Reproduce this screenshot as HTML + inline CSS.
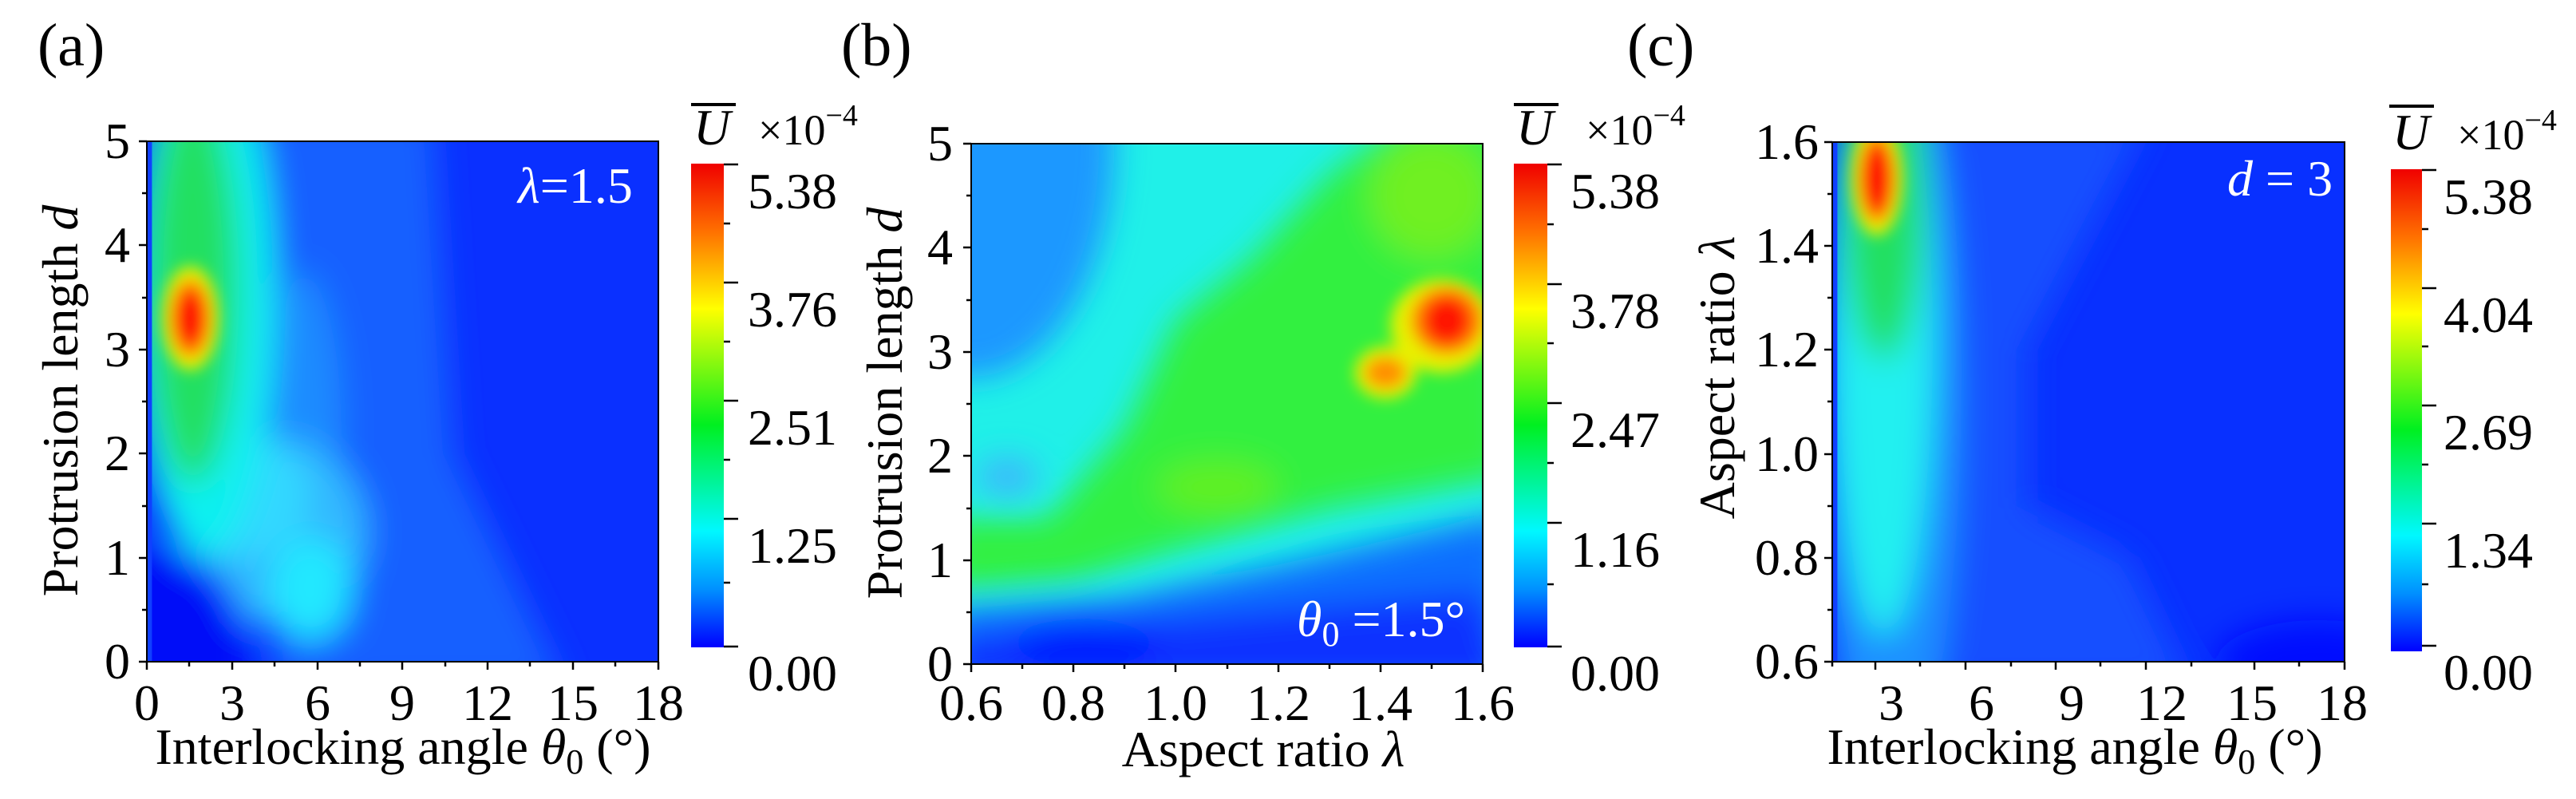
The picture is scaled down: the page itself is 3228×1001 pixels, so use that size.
<!DOCTYPE html>
<html><head><meta charset="utf-8"><style>
html,body{margin:0;padding:0;background:#fff;}
svg, svg text, svg tspan{font-family:"Liberation Serif","DejaVu Serif","Times New Roman",Times,serif !important;}
</style></head><body>
<svg width="3228" height="996" viewBox="0 0 3228 996" xmlns="http://www.w3.org/2000/svg" font-family="'Liberation Serif', 'DejaVu Serif', serif">
<defs>
<filter id="bl" x="-30%" y="-30%" width="160%" height="160%"><feGaussianBlur stdDeviation="3.2"/></filter>
<filter id="bs" x="-30%" y="-30%" width="160%" height="160%"><feGaussianBlur stdDeviation="1.4"/></filter>
<clipPath id="cp"><rect x="0" y="0" width="100" height="100"/></clipPath>
<linearGradient id="jet" x1="0" y1="0" x2="0" y2="1">
<stop offset="0" stop-color="#f00000"/><stop offset="0.14" stop-color="#ff7000"/>
<stop offset="0.3" stop-color="#ffff00"/><stop offset="0.54" stop-color="#00f020"/>
<stop offset="0.76" stop-color="#00f8ff"/><stop offset="0.88" stop-color="#0090ff"/>
<stop offset="1" stop-color="#0000ff"/></linearGradient>
</defs>

<g transform="translate(184,177) scale(6.41,6.52)" clip-path="url(#cp)">
<rect x="-5" y="-5" width="110" height="110" fill="#0a30ff"/>
<g filter="url(#bl)">
<path d="M16,-5 L56,-5 L60,60 L82,105 L25,105 Z" fill="#1560ff"/>
<ellipse cx="30" cy="55" rx="8" ry="30" fill="#1a8cff"/>
<ellipse cx="25" cy="75" rx="18" ry="18" fill="#30b8ff"/>
<ellipse cx="32" cy="86" rx="8" ry="10" fill="#20e8ff"/>
<ellipse cx="18" cy="68" rx="14" ry="12" fill="#30d8ff"/>
<ellipse cx="11" cy="30" rx="14" ry="50" fill="#10f0f0"/>
<ellipse cx="9" cy="28" rx="9" ry="38" fill="#20e060"/>
<ellipse cx="2" cy="100" rx="18" ry="22" fill="#0010f8"/>
</g>
<g filter="url(#bs)">
<ellipse cx="8.5" cy="34" rx="5.5" ry="10" fill="#e8f000"/>
<ellipse cx="8.5" cy="34" rx="4" ry="7.5" fill="#ff8000"/>
<ellipse cx="8.5" cy="34" rx="2.6" ry="5.2" fill="#ff1000"/>
</g>
<rect x="0" y="0" width="1" height="100" fill="#1040ff"/>
</g>
<rect x="184" y="177" width="641" height="652" fill="none" stroke="#000" stroke-width="2"/>

<g transform="translate(1217,180) scale(6.41,6.52)" clip-path="url(#cp)">
<rect x="-5" y="-5" width="110" height="110" fill="#20f0e8"/>
<g filter="url(#bl)">
<ellipse cx="0" cy="0" rx="28" ry="45" fill="#1a98ff"/>
<path d="M-5,72 L15,72 L30,55 L40,34 L55,22 L70,6 L85,-5 L105,-5 L105,64 L70,70 L40,78 L20,84 L-5,86 Z" fill="#30f040"/>
<ellipse cx="48" cy="66" rx="12" ry="5" fill="#60f020"/>
<ellipse cx="90" cy="10" rx="12" ry="12" fill="#70f020"/>
<ellipse cx="7" cy="64" rx="6" ry="3.5" fill="#40b0ff"/>
<path d="M-5,89 L30,87 L60,81 L105,71 L105,105 L-5,105 Z" fill="#1070ff"/>
<path d="M-5,95 L100,86 L105,105 L-5,105 Z" fill="#0a30ff"/>
<ellipse cx="22" cy="96" rx="15" ry="4" fill="#0008ff"/>
</g>
<g filter="url(#bs)">
<ellipse cx="92" cy="35" rx="10" ry="9" fill="#e8f000"/>
<ellipse cx="81" cy="44" rx="6" ry="5" fill="#e8f000"/>
<ellipse cx="81" cy="44" rx="4" ry="3" fill="#ff9000"/>
<ellipse cx="93" cy="34" rx="7" ry="6.5" fill="#ff8000"/>
<ellipse cx="93" cy="34" rx="4.5" ry="4.5" fill="#ff1800"/>
</g>
</g>
<rect x="1217" y="180" width="641" height="652" fill="none" stroke="#000" stroke-width="2"/>

<g transform="translate(2296,178) scale(6.42,6.51)" clip-path="url(#cp)">
<rect x="-5" y="-5" width="110" height="110" fill="#0830ff"/>
<g filter="url(#bl)">
<path d="M12,-5 L62,-5 L38,40 L38,70 L58,80 L70,105 L10,105 Z" fill="#1550ff"/>
<ellipse cx="11" cy="50" rx="14" ry="75" fill="#1a90ff"/>
<ellipse cx="10" cy="35" rx="10" ry="60" fill="#20f0f0"/>
<ellipse cx="10" cy="10" rx="8" ry="32" fill="#20e060"/>
<ellipse cx="95" cy="100" rx="20" ry="8" fill="#0010ff"/>
</g>
<g filter="url(#bs)">
<ellipse cx="8.7" cy="7" rx="5" ry="11" fill="#e8f000"/>
<ellipse cx="8.7" cy="7" rx="3.6" ry="8.5" fill="#ff8000"/>
<ellipse cx="8.7" cy="7" rx="2.5" ry="6.5" fill="#ff1000"/>
</g>
<rect x="0" y="0" width="1" height="100" fill="#1040ff"/>
</g>
<rect x="2296" y="178" width="642" height="651" fill="none" stroke="#000" stroke-width="2"/>

<g stroke="#000" stroke-width="2.5">
<path d="M184,829v10M291,829v10M398,829v10M504,829v10M611,829v10M718,829v10M825,829v10
M237,829v6M344,829v6M451,829v6M558,829v6M664,829v6M771,829v6"/>
<path d="M184,177h-10M184,307h-10M184,438h-10M184,568h-10M184,699h-10M184,829h-10
M184,242h-6M184,373h-6M184,503h-6M184,634h-6M184,764h-6"/>
<path d="M1217,832v10M1345,832v10M1473,832v10M1602,832v10M1730,832v10M1858,832v10
M1281,832v6M1409,832v6M1538,832v6M1666,832v6M1794,832v6"/>
<path d="M1217,180h-10M1217,310h-10M1217,441h-10M1217,571h-10M1217,702h-10M1217,832h-10
M1217,245h-6M1217,376h-6M1217,506h-6M1217,637h-6M1217,767h-6"/>
<path d="M2350,829v10M2463,829v10M2576,829v10M2689,829v10M2825,829v10M2938,829v10
M2296,829v6M2406,829v6M2520,829v6M2632,829v6M2746,829v6M2881,829v6"/>
<path d="M2296,178h-10M2296,308h-10M2296,438h-10M2296,569h-10M2296,699h-10M2296,829h-10
M2296,243h-6M2296,373h-6M2296,503h-6M2296,634h-6M2296,764h-6"/>
</g>

<rect x="866" y="205" width="41" height="606" fill="url(#jet)"/>
<rect x="1897" y="205" width="42" height="606" fill="url(#jet)"/>
<rect x="2996" y="212" width="39" height="604" fill="url(#jet)"/>
<g stroke="#000" stroke-width="2.5">
<path d="M907,206h18M907,354h18M907,502h18M907,650h18M907,810h18M907,280h8M907,428h8M907,576h8M907,730h8"/>
<path d="M1939,206h18M1939,356h18M1939,505h18M1939,655h18M1939,810h18M1939,281h8M1939,430h8M1939,580h8M1939,732h8"/>
<path d="M3035,213h18M3035,361h18M3035,508h18M3035,656h18M3035,809h18M3035,287h8M3035,434h8M3035,582h8M3035,732h8"/>
</g>

<g font-size="64" fill="#000">
<g text-anchor="end"><text x="163" y="198">5</text><text x="163" y="328">4</text><text x="163" y="459">3</text><text x="163" y="589">2</text><text x="163" y="720">1</text><text x="163" y="850">0</text></g>
<g text-anchor="middle"><text x="184" y="902">0</text><text x="291" y="902">3</text><text x="398" y="902">6</text><text x="504" y="902">9</text><text x="611" y="902">12</text><text x="718" y="902">15</text><text x="825" y="902">18</text></g>
<text x="505" y="957" text-anchor="middle">Interlocking angle <tspan font-style="italic">θ</tspan><tspan font-size="44" dy="12">0</tspan><tspan dy="-12"> (°)</tspan></text>
<text transform="translate(97,502) rotate(-90)" text-anchor="middle">Protrusion length <tspan font-style="italic">d</tspan></text>
<g><text x="937" y="261">5.38</text><text x="937" y="409">3.76</text><text x="937" y="557">2.51</text><text x="937" y="705">1.25</text><text x="937" y="865">0.00</text></g>
<text x="869" y="181" font-style="italic">U</text><line x1="866" y1="131" x2="922" y2="131" stroke="#000" stroke-width="4"/>
<text x="950" y="181" font-size="54">×10<tspan font-size="38" dy="-24">−4</tspan></text>
<text x="649" y="254" fill="#fff"><tspan font-style="italic">λ</tspan>=1.5</text>

<g text-anchor="end"><text x="1194" y="201">5</text><text x="1194" y="331">4</text><text x="1194" y="462">3</text><text x="1194" y="592">2</text><text x="1194" y="723">1</text><text x="1194" y="853">0</text></g>
<g text-anchor="middle"><text x="1217" y="902">0.6</text><text x="1345" y="902">0.8</text><text x="1473" y="902">1.0</text><text x="1602" y="902">1.2</text><text x="1730" y="902">1.4</text><text x="1858" y="902">1.6</text></g>
<text x="1583" y="960" text-anchor="middle">Aspect ratio <tspan font-style="italic">λ</tspan></text>
<text transform="translate(1130,505) rotate(-90)" text-anchor="middle">Protrusion length <tspan font-style="italic">d</tspan></text>
<g><text x="1968" y="261">5.38</text><text x="1968" y="411">3.78</text><text x="1968" y="560">2.47</text><text x="1968" y="710">1.16</text><text x="1968" y="865">0.00</text></g>
<text x="1900" y="181" font-style="italic">U</text><line x1="1897" y1="131" x2="1953" y2="131" stroke="#000" stroke-width="4"/>
<text x="1987" y="181" font-size="54">×10<tspan font-size="38" dy="-24">−4</tspan></text>
<text x="1625" y="797" fill="#fff"><tspan font-style="italic">θ</tspan><tspan font-size="44" dy="12">0</tspan><tspan dy="-12"> =1.5°</tspan></text>

<g text-anchor="end"><text x="2279" y="199">1.6</text><text x="2279" y="329">1.4</text><text x="2279" y="459">1.2</text><text x="2279" y="590">1.0</text><text x="2279" y="720">0.8</text><text x="2279" y="850">0.6</text></g>
<g text-anchor="middle"><text x="2370" y="902">3</text><text x="2483" y="902">6</text><text x="2596" y="902">9</text><text x="2709" y="902">12</text><text x="2822" y="902">15</text><text x="2935" y="902">18</text></g>
<text x="2600" y="957" text-anchor="middle">Interlocking angle <tspan font-style="italic">θ</tspan><tspan font-size="44" dy="12">0</tspan><tspan dy="-12"> (°)</tspan></text>
<text transform="translate(2173,473) rotate(-90)" text-anchor="middle">Aspect ratio <tspan font-style="italic">λ</tspan></text>
<g><text x="3062" y="268">5.38</text><text x="3062" y="416">4.04</text><text x="3062" y="563">2.69</text><text x="3062" y="711">1.34</text><text x="3062" y="864">0.00</text></g>
<text x="2998" y="187" font-style="italic">U</text><line x1="2994" y1="133" x2="3050" y2="133" stroke="#000" stroke-width="4"/>
<text x="3079" y="187" font-size="54">×10<tspan font-size="38" dy="-24">−4</tspan></text>
<text x="2791" y="245" fill="#fff"><tspan font-style="italic">d</tspan> = 3</text>
</g>

<g font-size="76" fill="#000">
<text x="47" y="82">(a)</text>
<text x="1054" y="82">(b)</text>
<text x="2039" y="82">(c)</text>
</g>
</svg>
</body></html>
